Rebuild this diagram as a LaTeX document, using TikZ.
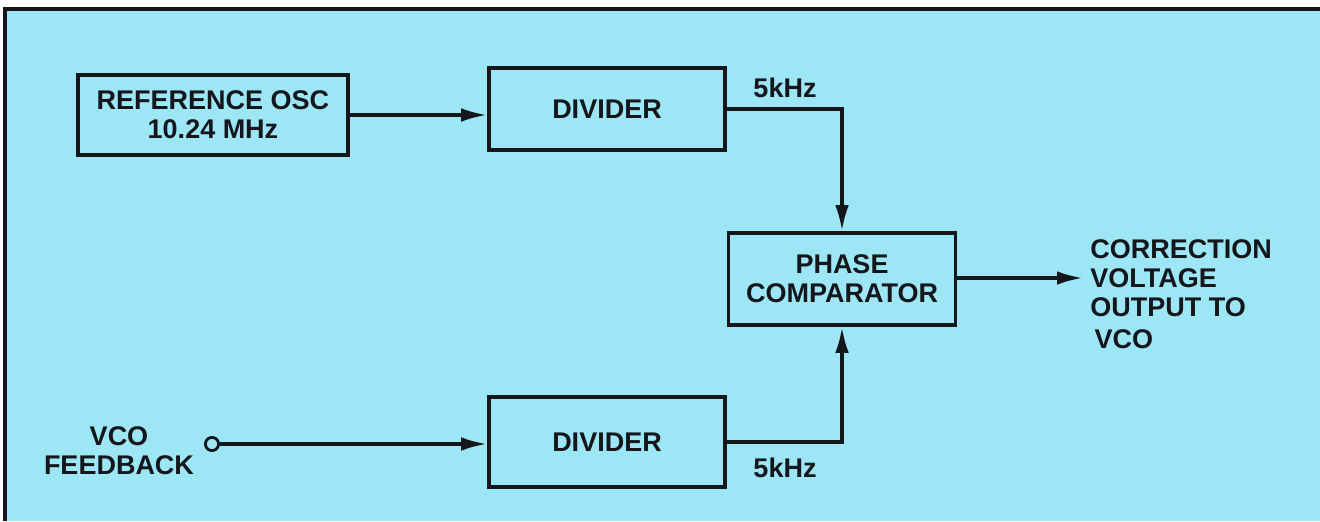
\documentclass[tikz,border=0pt]{standalone}
\usepackage{fontspec}
\setmainfont{Liberation Sans}
\usetikzlibrary{arrows.meta}

\definecolor{panel}{RGB}{156,230,246}
\definecolor{ink}{RGB}{20,22,28}
\newcommand{\lblfont}{\fontsize{19.2}{20.8}\selectfont\bfseries}

\begin{document}
\begin{tikzpicture}[x=0.025cm, y=-0.025cm, >={Latex[length=6.5mm,width=3.4mm]},
    box/.style={draw=ink, line width=2.5pt, inner sep=0pt, align=center, font=\lblfont, text=ink},
    lbl/.style={inner sep=0pt, align=center, font=\lblfont, text=ink},
    wire/.style={draw=ink, line width=2.5pt}]

    \useasboundingbox (0,0) rectangle (1320,521);

    % 1. Fondo y marco
    \fill[white] (0,0) rectangle (1320,521);
    \fill[panel] (5,9) rectangle (1320,521);
    \draw[ink, line width=2.5pt] (5,521) -- (5,9) -- (1320,9);

    % 2. Bloques
    \node[box, minimum width=6.75cm, minimum height=2cm] (osc) at (213,115) {REFERENCE OSC\\10.24 MHz};
    \node[box, minimum width=5.9cm, minimum height=2.05cm] (divtop) at (607,109) {DIVIDER};
    \node[box, minimum width=5.675cm, minimum height=2.3cm] (phase) at (842,279) {PHASE\\COMPARATOR};
    \node[box, minimum width=5.9cm, minimum height=2.25cm] (divbot) at (607,442) {DIVIDER};

    % Entrada VCO
    \node[draw=ink, circle, line width=2pt, minimum size=0.33cm, inner sep=0pt] (fb) at (212,444) {};
    \node[lbl] (fblbl) at (119,451) {VCO\\FEEDBACK};

    % Salida
    \coordinate (out) at (1083,278);
    \node[lbl, anchor=west, align=left] (outlbl) at (1090,294) {CORRECTION\\VOLTAGE\\OUTPUT TO\\[2pt]\hspace*{3pt}VCO};

    % 3. Conexiones
    \draw[wire, ->] (osc.east) -- (osc.east -| divtop.west);
    \draw[wire, ->] (divtop.east) -| (phase.north);
    \draw[wire, ->] (divbot.east) -| (phase.south);
    \draw[wire, ->] (fb) -- (fb -| divbot.west);
    \draw[wire, ->] (phase.east |- out) -- (out);

    % Frecuencias
    \node[lbl] (ftop) at (785,88) {5kHz};
    \node[lbl] (fbot) at (785,468) {5kHz};

\end{tikzpicture}
\end{document}
